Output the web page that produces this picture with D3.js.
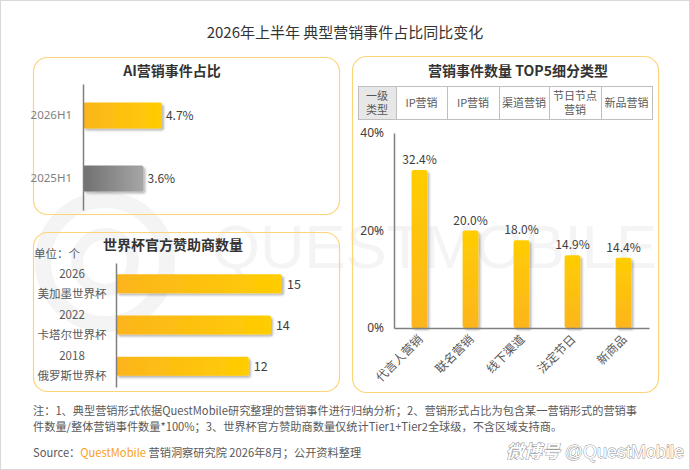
<!DOCTYPE html>
<html><head><meta charset="utf-8">
<script src="https://cdn.jsdelivr.net/npm/d3@7"></script>
<style>
html,body{margin:0;padding:0;background:#fff;}
svg{display:block;font-family:"Noto Sans CJK SC","Noto Sans",sans-serif;}
</style></head>
<body><svg id="c" width="690" height="470"></svg>
<script>
// ---- data ----
const aiCategories = ["2026H1", "2025H1"];
const aiValues = [4.7, 3.6];
const cupYears = ["2026", "2022", "2018"];
const cupNames = ["美加墨世界杯", "卡塔尔世界杯", "俄罗斯世界杯"];
const cupValues = [15, 14, 12];
const topHeader = ["一级类型", "IP营销", "IP营销", "渠道营销", "节日节点营销", "新品营销"];
const topCategories = ["代言人营销", "联名营销", "线下渠道", "法定节日", "新商品"];
const topValues = [32.4, 20.0, 18.0, 14.9, 14.4];
const topTicks = [0, 20, 40];

const svg = d3.select("#c");
const defs = svg.append("defs");
const gH = defs.append("linearGradient").attr("id","gH").attr("x1","0").attr("x2","1").attr("y1","0").attr("y2","0");
gH.append("stop").attr("offset","0").attr("stop-color","#fcb51c");
gH.append("stop").attr("offset","1").attr("stop-color","#ffcd02");
const gG = defs.append("linearGradient").attr("id","gG").attr("x1","0").attr("x2","1").attr("y1","0").attr("y2","0");
gG.append("stop").attr("offset","0").attr("stop-color","#707070");
gG.append("stop").attr("offset","1").attr("stop-color","#a6a6a6");
const gV = defs.append("linearGradient").attr("id","gV").attr("x1","0").attr("x2","0").attr("y1","0").attr("y2","1");
gV.append("stop").attr("offset","0").attr("stop-color","#ffcd02");
gV.append("stop").attr("offset","1").attr("stop-color","#fcb51c");
const f = defs.append("filter").attr("id","sh").attr("x","-20%").attr("y","-20%").attr("width","150%").attr("height","150%");
f.append("feDropShadow").attr("dx",2).attr("dy",2).attr("stdDeviation",1.2).attr("flood-color","#000").attr("flood-opacity",0.28);

// background + border
svg.append("rect").attr("x",0.5).attr("y",0.5).attr("width",689).attr("height",469).attr("fill","#fff").attr("stroke","#d9d9d9");

// watermark (faint logo)
const wm = svg.append("g");
wm.append("circle").attr("cx",105).attr("cy",262).attr("r",62).attr("fill","none").attr("stroke","#f4f4f4").attr("stroke-width",16);
wm.append("circle").attr("cx",105).attr("cy",262).attr("r",28).attr("fill","none").attr("stroke","#f4f4f4").attr("stroke-width",12);
wm.append("text").attr("x",212).attr("y",268).attr("font-size",62).attr("font-family","Liberation Sans, Arial, sans-serif")
  .attr("fill","#f4f4f4").attr("textLength",445).attr("lengthAdjust","spacingAndGlyphs").text("QUESTMOBILE");

// title
svg.append("text").attr("x",345).attr("y",38).attr("text-anchor","middle").attr("font-size",15).attr("fill","#333").text("2026年上半年 典型营销事件占比同比变化");

// panels
const panelStroke = "#fdd47a";
[[33,57,306,157],[33,232,306,159],[352,56,306,336]].forEach(p=>{
  svg.append("rect").attr("x",p[0]+0.5).attr("y",p[1]+0.5).attr("width",p[2]).attr("height",p[3]).attr("rx",14)
    .attr("fill","none").attr("stroke",panelStroke).attr("stroke-width",1.2);
});

// ---- Panel 1 ----
svg.append("text").attr("x",172).attr("y",76).attr("text-anchor","middle").attr("font-size",14).attr("font-weight","bold").attr("fill","#333").text("AI营销事件占比");
const y1 = d3.scaleBand().domain(aiCategories).range([84,210]).paddingInner(0.59).paddingOuter(0.295);
const x1 = d3.scaleLinear().domain([0,5]).range([83,167]);
const g1 = svg.append("g");
g1.selectAll("rect.b").data(aiValues).join("rect").attr("class","b")
  .attr("x",x1(0)).attr("y",(d,i)=>y1(aiCategories[i])).attr("width",d=>x1(d)-x1(0)).attr("height",y1.bandwidth())
  .attr("rx",2).attr("fill",(d,i)=>i===0?"url(#gH)":"url(#gG)").attr("filter","url(#sh)");
g1.selectAll("text.v").data(aiValues).join("text").attr("class","v")
  .attr("x",d=>x1(d)+4).attr("y",(d,i)=>y1(aiCategories[i])+y1.bandwidth()/2+4).attr("font-size",12).attr("fill","#404040").text(d=>d.toFixed(1)+"%");
const ax1 = g1.append("g").attr("transform",`translate(${x1(0)},0)`).call(d3.axisLeft(y1).tickSize(0).tickPadding(11));
ax1.select(".domain").attr("stroke","#7f7f7f").attr("stroke-width",1.5);
ax1.selectAll("text").attr("font-size",11.5).attr("fill","#7f7f7f").attr("font-family","Noto Sans, sans-serif");

// ---- Panel 2 ----
svg.append("text").attr("x",173).attr("y",250).attr("text-anchor","middle").attr("font-size",14).attr("font-weight","bold").attr("fill","#333").text("世界杯官方赞助商数量");
svg.append("text").attr("x",34).attr("y",258).attr("font-size",11.5).attr("fill","#595959").text("单位：个");
const y2 = d3.scaleBand().domain(cupYears).range([263,387]).paddingInner(0.54).paddingOuter(0.27);
const x2 = d3.scaleLinear().domain([0,15]).range([116,282]);
const g2 = svg.append("g");
g2.selectAll("rect").data(cupValues).join("rect")
  .attr("x",x2(0)).attr("y",(d,i)=>y2(cupYears[i])).attr("width",d=>x2(d)-x2(0)).attr("height",y2.bandwidth())
  .attr("rx",2).attr("fill","url(#gH)").attr("filter","url(#sh)");
g2.selectAll("text.v").data(cupValues).join("text").attr("class","v")
  .attr("x",d=>x2(d)+5).attr("y",(d,i)=>y2(cupYears[i])+y2.bandwidth()/2+5).attr("font-size",12.5).attr("fill","#404040").text(d=>d);
const ax2 = g2.append("g").attr("transform",`translate(${x2(0)},0)`).call(d3.axisLeft(y2).tickSize(0).tickFormat(""));
ax2.select(".domain").attr("stroke","#7f7f7f").attr("stroke-width",1.5);
cupYears.forEach((yr,i)=>{
  const cy = y2(yr)+y2.bandwidth()/2;
  svg.append("text").attr("x",72).attr("y",cy-6).attr("text-anchor","middle").attr("font-size",11.5).attr("fill","#595959").text(yr);
  svg.append("text").attr("x",72).attr("y",cy+14).attr("text-anchor","middle").attr("font-size",11.5).attr("fill","#595959").text(cupNames[i]);
});

// ---- Panel 3 ----
svg.append("text").attr("x",518).attr("y",76).attr("text-anchor","middle").attr("font-size",14).attr("font-weight","bold").attr("fill","#333").text("营销事件数量 TOP5细分类型");
const colEdges = [358,396,447,499,549,601,652];
const tTop = 86, tBot = 119;
const tg = svg.append("g");
topHeader.forEach((h,i)=>{
  tg.append("rect").attr("x",colEdges[i]+0.5).attr("y",tTop+0.5).attr("width",colEdges[i+1]-colEdges[i]).attr("height",tBot-tTop)
    .attr("fill",i===0?"#e7e7e7":"#fff").attr("stroke","#bfbfbf");
  const cx = (colEdges[i]+colEdges[i+1])/2, cy=(tTop+tBot)/2;
  let lines = [h];
  if(h.length>4) lines=[h.slice(0,4),h.slice(4)];
  else if(i===0) lines=[h.slice(0,2),h.slice(2)];
  lines.forEach((l,j)=>{
    tg.append("text").attr("x",cx).attr("y",cy+4+(j-(lines.length-1)/2)*14).attr("text-anchor","middle")
      .attr("font-size",11).attr("fill","#595959").text(l);
  });
});
const x3 = d3.scaleBand().domain(topCategories).range([394,649]).paddingInner(0.69).paddingOuter(0.345);
const y3 = d3.scaleLinear().domain([0,40]).range([328,133]);
const g3 = svg.append("g");
g3.selectAll("rect").data(topValues).join("rect")
  .attr("x",(d,i)=>x3(topCategories[i])).attr("y",d=>y3(d)).attr("width",x3.bandwidth()).attr("height",d=>y3(0)-y3(d))
  .attr("rx",2).attr("fill","url(#gV)").attr("filter","url(#sh)");
g3.selectAll("text.v").data(topValues).join("text").attr("class","v")
  .attr("x",(d,i)=>x3(topCategories[i])+x3.bandwidth()/2).attr("y",d=>y3(d)-6).attr("text-anchor","middle")
  .attr("font-size",12).attr("fill","#404040").text(d=>d.toFixed(1)+"%");
const ay3 = g3.append("g").attr("transform","translate(394,0)").call(d3.axisLeft(y3).tickValues(topTicks).tickSize(0).tickPadding(10).tickFormat(d=>d+"%"));
ay3.select(".domain").attr("stroke","#7f7f7f").attr("stroke-width",1.5);
ay3.selectAll("text").attr("font-size",12).attr("fill","#404040").attr("font-family","Noto Sans, sans-serif");
const ax3 = g3.append("g").attr("transform","translate(0,328)").call(d3.axisBottom(x3).tickSize(0).tickFormat(""));
ax3.select(".domain").attr("stroke","#7f7f7f").attr("stroke-width",1.5);
topCategories.forEach(c=>{
  const cx = x3(c)+x3.bandwidth()/2+4;
  svg.append("text").attr("transform",`translate(${cx},340) rotate(-45)`).attr("text-anchor","end")
    .attr("font-size",12).attr("fill","#595959").text(c);
});

// ---- footnotes ----
svg.append("text").attr("x",33).attr("y",415).attr("font-size",11.2).attr("fill","#595959")
  .text("注：1、典型营销形式依据QuestMobile研究整理的营销事件进行归纳分析；2、营销形式占比为包含某一营销形式的营销事");
svg.append("text").attr("x",33).attr("y",431).attr("font-size",11.2).attr("fill","#595959")
  .text("件数量/整体营销事件数量*100%；3、世界杯官方赞助商数量仅统计Tier1+Tier2全球级，不含区域支持商。");
const src = svg.append("text").attr("x",33).attr("y",457).attr("font-size",11.2).attr("fill","#595959");
src.append("tspan").text("Source：");
src.append("tspan").attr("fill","#f7a21b").text("QuestMobile");
src.append("tspan").text(" 营销洞察研究院 2026年8月；公开资料整理");
const wb = svg.append("text").attr("x",684).attr("y",458).attr("text-anchor","end").attr("font-size",18).attr("fill","#fff")
  .attr("stroke","#8c8c8c").attr("stroke-width",0.9).attr("paint-order","stroke");
wb.append("tspan").attr("font-style","italic").attr("font-weight","bold").text("微博号");
wb.append("tspan").attr("font-family","Liberation Sans, Arial, sans-serif").text(" @QuestMobile");
</script></body></html>
